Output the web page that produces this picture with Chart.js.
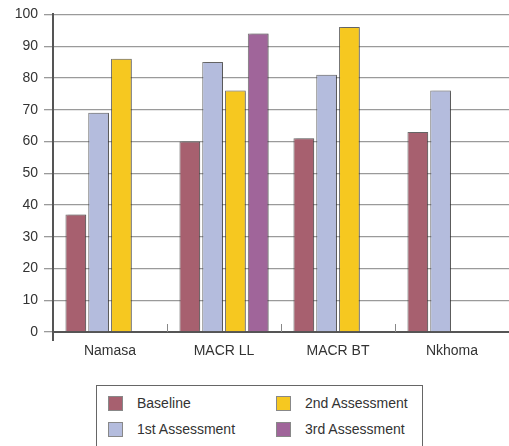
<!DOCTYPE html>
<html lang="en">
<head>
<meta charset="utf-8">
<title>Assessment scores</title>
<script src="https://cdn.jsdelivr.net/npm/chart.js"></script>
<style>
    html, body { margin: 0; padding: 0; background: #fff; overflow: hidden; }
    body { width: 509px; height: 446px; position: relative; font-family: "Liberation Sans", Arial, Helvetica, sans-serif; color: #333; }
    .chart-box { position: absolute; left: 0; top: 0; width: 509px; height: 362px; }
    #legend { position: absolute; left: 96px; top: 385px; width: 327px; height: 80px; border: 1px solid #666;
              display: grid; grid-template-columns: 168px 150px; grid-auto-rows: 26px; padding: 10px 0 0 11px; box-sizing: border-box; }
    #legend .item { display: flex; align-items: center; font-size: 14px; height: 14px; margin-top: 0; }
    #legend .sw { width: 13px; height: 13px; border: 1px solid #888; margin-right: 14px; flex: none; }
</style>
</head>
<body>
<div class="chart-box"><canvas id="chart"></canvas></div>
<div id="legend"></div>
<script>
    // values
    const categories = ['Namasa', 'MACR LL', 'MACR BT', 'Nkhoma'];
    const seriesNames = ['Baseline', '1st Assessment', '2nd Assessment', '3rd Assessment'];
    const baseline = [37, 60, 61, 63];
    const firstAssessment = [69, 85, 81, 76];
    const secondAssessment = [86, 76, 96, null];
    const thirdAssessment = [null, 94, null, null];
    const yTicks = [0, 10, 20, 30, 40, 50, 60, 70, 80, 90, 100];

    const colors = ['#A7606F', '#B4BCDD', '#F6C820', '#A0659A'];
    const values = [baseline, firstAssessment, secondAssessment, thirdAssessment];

    // soft drop shadow behind the bars
    const shadowPlugin = {
        id: 'barShadow',
        beforeDatasetsDraw(chart) {
            const ctx = chart.ctx;
            ctx.save();
            ctx.shadowColor = 'rgba(0,0,0,0.28)';
            ctx.shadowOffsetX = 2;
            ctx.shadowOffsetY = 0;
            ctx.shadowBlur = 2;
        },
        afterDatasetsDraw(chart) {
            chart.ctx.restore();
        }
    };

    // small upward ticks between categories and the y axis stub below zero
    const axisMarks = {
        id: 'axisMarks',
        afterDraw(chart) {
            const { ctx, chartArea, scales } = chart;
            const x = scales.x;
            ctx.save();
            ctx.strokeStyle = '#888';
            ctx.lineWidth = 1;
            for (let i = 1; i < categories.length; i++) {
                const px = Math.round((x.getPixelForValue(i - 1) + x.getPixelForValue(i)) / 2) + 0.5;
                ctx.beginPath();
                ctx.moveTo(px, chartArea.bottom - 8);
                ctx.lineTo(px, chartArea.bottom);
                ctx.stroke();
            }
            ctx.strokeStyle = '#555';
            ctx.lineWidth = 2;
            ctx.beginPath();
            ctx.moveTo(chartArea.left, chartArea.bottom);
            ctx.lineTo(chartArea.left, chartArea.bottom + 9);
            ctx.stroke();
            ctx.restore();
        }
    };

    const chart = new Chart(document.getElementById('chart'), {
        type: 'bar',
        data: {
            labels: categories,
            datasets: seriesNames.map((name, i) => ({
                label: name,
                data: values[i],
                backgroundColor: colors[i],
                borderColor: 'rgba(70,70,70,0.75)',
                borderWidth: 1,
                categoryPercentage: 0.8,
                barPercentage: 0.91
            }))
        },
        options: {
            responsive: true,
            maintainAspectRatio: false,
            animation: false,
            devicePixelRatio: 1,
            layout: { padding: { top: 11, left: 0, right: 0, bottom: 0 } },
            plugins: { legend: { display: false }, tooltip: { enabled: false } },
            scales: {
                x: {
                    grid: { display: false, drawTicks: false },
                    border: { display: true, color: '#555', width: 2 },
                    ticks: { color: '#333', font: { family: 'Liberation Sans, Arial', size: 14 }, padding: 11, maxRotation: 0 },
                    afterFit(scale) { scale.height = 30; }
                },
                y: {
                    min: 0,
                    max: 100,
                    afterBuildTicks(scale) { scale.ticks = yTicks.map(v => ({ value: v })); },
                    grid: { color: '#9a9a9a', lineWidth: 1.3, tickLength: 9, tickColor: '#9a9a9a' },
                    border: { display: true, color: '#555', width: 2 },
                    ticks: { color: '#333', font: { family: 'Liberation Sans, Arial', size: 14 }, padding: 6 },
                    afterFit(scale) { scale.width = 53; }
                }
            }
        },
        plugins: [shadowPlugin, axisMarks]
    });

    // legend laid out column by column like the original
    const legend = document.getElementById('legend');
    const order = [0, 2, 1, 3];
    order.forEach(i => {
        const ds = chart.data.datasets[i];
        const item = document.createElement('div');
        item.className = 'item';
        item.style.marginTop = '0';
        const sw = document.createElement('span');
        sw.className = 'sw';
        sw.style.background = ds.backgroundColor;
        const txt = document.createElement('span');
        txt.textContent = ds.label;
        item.appendChild(sw);
        item.appendChild(txt);
        legend.appendChild(item);
    });
</script>
</body>
</html>
